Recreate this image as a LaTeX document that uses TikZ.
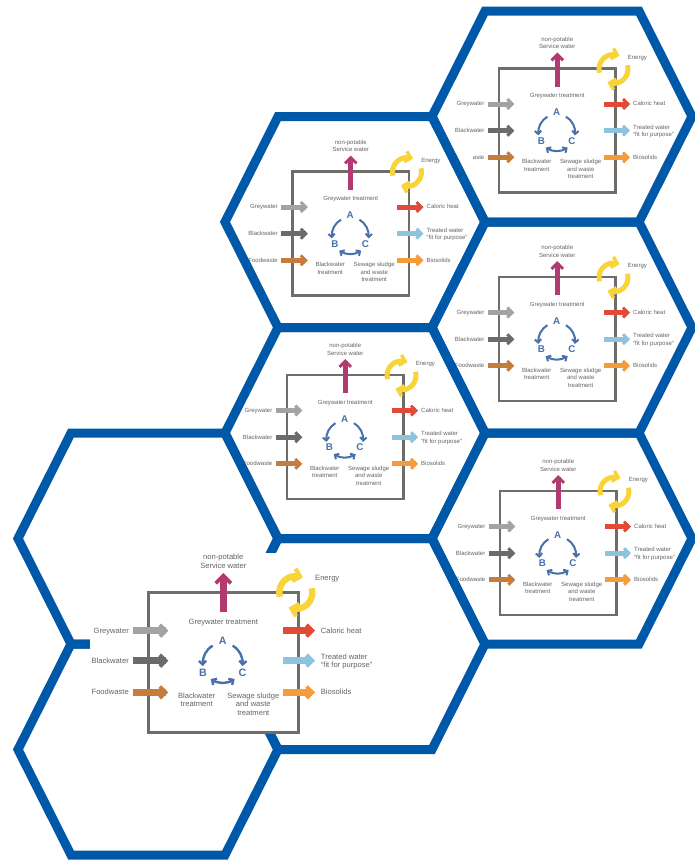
\documentclass[tikz,border=0pt]{standalone}
\usepackage{fontspec}
\setmainfont{Liberation Sans}
\usetikzlibrary{calc}
\definecolor{hexblue}{RGB}{0,88,168}
\definecolor{boxgray}{RGB}{112,108,104}
\definecolor{txtgray}{RGB}{100,100,100}
\definecolor{cgrey}{RGB}{165,162,162}
\definecolor{cblack}{RGB}{108,106,106}
\definecolor{cfood}{RGB}{198,124,58}
\definecolor{cheat}{RGB}{225,74,54}
\definecolor{cwater}{RGB}{140,196,222}
\definecolor{cbio}{RGB}{244,155,60}
\definecolor{cserv}{RGB}{178,58,112}
\definecolor{cenergy}{RGB}{248,212,56}
\definecolor{cabc}{RGB}{72,112,170}

\tikzset{
  hexedge/.style={draw=hexblue, line width=9pt, line join=miter},
  unitbox/.style={draw=boxgray, line width={\ubw*1pt}},
  lbl/.style={inner sep=0pt, text=txtgray, font=\fontsize{\ufs}{\ubl}\selectfont},
  abclbl/.style={inner sep=0pt, text=cabc, font=\fontsize{\uabc}{\uabc}\selectfont\bfseries},
}

% chevron: colour, vertex, direction (image angle), arm width, half size
\newcommand\chev[5]{%
  \draw[#1, line width={#4*1pt}, line join=miter, line cap=butt]
    ($#2+({#3+135}:{1.4142*#5})$) -- #2 -- ($#2+({#3-135}:{1.4142*#5})$);}

% right arrow: colour, x start, x tip, y, shaft width, arm width, half size
\newcommand\fatR[7]{%
  \pgfmathsetmacro\fvx{#3-0.7071*#6}%
  \draw[#1, line width={#5*1pt}] (#2,#4) -- (\fvx,#4);
  \chev{#1}{(\fvx,#4)}{0}{#6}{#7}}

% up arrow: colour, x, y start, y tip, shaft width, arm width, half size
\newcommand\fatU[7]{%
  \pgfmathsetmacro\fvy{#4+0.7071*#6}%
  \draw[#1, line width={#5*1pt}] (#2,#3) -- (#2,\fvy);
  \chev{#1}{(#2,\fvy)}{270}{#6}{#7}}

\newcommand\hexcell[2]{%
  \draw[hexedge] ({#1-130},#2) -- ({#1-77},{#2-105.5}) -- ({#1+77},{#2-105.5})
    -- ({#1+130},#2) -- ({#1+77},{#2+105.5}) -- ({#1-77},{#2+105.5}) -- cycle;}

\newcommand\smallparams{%
  \def\uW{116.5}\def\uH{124}%
  \def\uyA{35.5}\def\uyB{62.2}\def\uyC{88.8}%
  \def\uinS{-11.5}\def\uinT{15.3}\def\uinL{-14.5}%
  \def\uoutS{-12}\def\uoutT{14.5}\def\uoutL{17.5}%
  \def\uaw{5}\def\uhw{3}\def\uah{4.9}\def\umh{5.8}%
  \def\umb{18}\def\umt{-16}%
  \def\unp{-29.7}\def\ugt{27.3}%
  \def\uabcx{57.7}\def\uabcy{64.2}\def\ur{18.5}\def\uaby{-20.2}\def\ubcx{15.3}\def\ubcy{8.1}%
  \def\ubtx{37.7}\def\ustx{81.7}\def\utry{93}%
  \def\uex{-2}\def\uey{0.5}\def\uer{14.5}\def\uew{5}\def\uehw{3.4}\def\ueh{5.4}%
  \def\uelx{12.2}\def\uely{-11.3}%
  \def\ufs{6}\def\ubl{7.4}\def\uabc{9.8}\def\ubw{2.6}\def\uabw{2}\def\uabh{3.2}}

\newcommand\bigparams{%
  \def\uW{150}\def\uH{140}%
  \def\uyA{38.2}\def\uyB{68.2}\def\uyC{99.8}%
  \def\uinS{-15}\def\uinT{20}\def\uinL{-19.3}%
  \def\uoutS{-15}\def\uoutT{16.7}\def\uoutL{22.4}%
  \def\uaw{6.5}\def\uhw{3.8}\def\uah{5.8}\def\umh{7.6}%
  \def\umb{19.2}\def\umt{-19.5}%
  \def\unp{-35.5}\def\ugt{29.2}%
  \def\uabcx{74.4}\def\uabcy{70.5}\def\ur{20}\def\uaby{-22}\def\ubcx{19.8}\def\ubcy{9.7}%
  \def\ubtx{48.4}\def\ustx{105}\def\utry{103.2}%
  \def\uex{-2.5}\def\uey{0}\def\uer{16.5}\def\uew{6.3}\def\uehw{4.2}\def\ueh{6.4}%
  \def\uelx{16.7}\def\uely{-14.2}%
  \def\ufs{7.6}\def\ubl{8.3}\def\uabc{10.7}\def\ubw{3.2}\def\uabw{2.4}\def\uabh{3.6}}

\newcommand\drawunit[4]{%
\begin{scope}[shift={(#1,#2)}]
  \pgfmathsetmacro\uoS{\uW+\uoutS}%
  \pgfmathsetmacro\uoT{\uW+\uoutT}%
  \pgfmathsetmacro\uoL{\uW+\uoutL}%
  \pgfmathsetmacro\umx{\uW/2}%
  \draw[unitbox] (0,0) rectangle (\uW,\uH);
  % energy cycle
  \coordinate (#4-ec) at ({\uW+\uex},\uey);
  \coordinate (#4-e1) at ($(#4-ec)+(285:\uer)$);
  \coordinate (#4-e2) at ($(#4-ec)+(105:\uer)$);
  \draw[cenergy, line width={\uew*1pt}] ($(#4-ec)+(165:\uer)$) arc[start angle=165, end angle=285, radius=\uer];
  \draw[cenergy, line width={\uew*1pt}] ($(#4-ec)+(-15:\uer)$) arc[start angle=-15, end angle=105, radius=\uer];
  \chev{cenergy}{(#4-e1)}{15}{\uehw}{\ueh}
  \chev{cenergy}{(#4-e2)}{195}{\uehw}{\ueh}
  % service water
  \fatU{cserv}{\umx}{\umb}{\umt}{\uaw}{\uhw}{\umh}
  % inputs
  \fatR{cgrey}{\uinS}{\uinT}{\uyA}{\uaw}{\uhw}{\uah}
  \fatR{cblack}{\uinS}{\uinT}{\uyB}{\uaw}{\uhw}{\uah}
  \fatR{cfood}{\uinS}{\uinT}{\uyC}{\uaw}{\uhw}{\uah}
  % outputs
  \fatR{cheat}{\uoS}{\uoT}{\uyA}{\uaw}{\uhw}{\uah}
  \fatR{cwater}{\uoS}{\uoT}{\uyB}{\uaw}{\uhw}{\uah}
  \fatR{cbio}{\uoS}{\uoT}{\uyC}{\uaw}{\uhw}{\uah}
  % ABC cycle
  \coordinate (#4-c) at (\uabcx,\uabcy);
  \coordinate (#4-ab1) at ($(#4-c)+(176:\ur)$);
  \coordinate (#4-ac1) at ($(#4-c)+(4:\ur)$);
  \coordinate (#4-bc0) at ($(#4-c)+(122:\ur)$);
  \coordinate (#4-bc1) at ($(#4-c)+(58:\ur)$);
  \draw[cabc, line width={\uabw*1pt}] ($(#4-c)+(240:\ur)$) arc[start angle=240, end angle=176, radius=\ur];
  \draw[cabc, line width={\uabw*1pt}] ($(#4-c)+(300:\ur)$) arc[start angle=300, end angle=364, radius=\ur];
  \draw[cabc, line width={\uabw*1pt}] (#4-bc0) arc[start angle=122, end angle=58, radius=\ur];
  \chev{cabc}{(#4-ab1)}{86}{\uabw}{\uabh}
  \chev{cabc}{(#4-ac1)}{94}{\uabw}{\uabh}
  \chev{cabc}{(#4-bc0)}{212}{\uabw}{\uabh}
  \chev{cabc}{(#4-bc1)}{-32}{\uabw}{\uabh}
  \node[abclbl] (#4-A) at ($(#4-c)+(0,\uaby)$) {A};
  \node[abclbl] (#4-B) at ($(#4-c)+(-\ubcx,\ubcy)$) {B};
  \node[abclbl] (#4-C) at ($(#4-c)+(\ubcx,\ubcy)$) {C};
  % labels
  \node[lbl, anchor=base east] (#4-gw) at (\uinL,{\uyA+0.33*\ufs}) {Greywater};
  \node[lbl, anchor=base east] (#4-bw) at (\uinL,{\uyB+0.33*\ufs}) {Blackwater};
  \node[lbl, anchor=base east] (#4-fw) at (\uinL,{\uyC+0.33*\ufs}) {#3};
  \node[lbl, anchor=base west] (#4-ch) at (\uoL,{\uyA+0.33*\ufs}) {Caloric heat};
  \node[lbl, anchor=north west, align=left] (#4-tw) at (\uoL,{\uyB-0.5*\ubl-0.37*\ufs}) {Treated water\\“fit for purpose”};
  \node[lbl, anchor=base west] (#4-bs) at (\uoL,{\uyC+0.33*\ufs}) {Biosolids};
  \node[lbl, anchor=base west] (#4-en) at ({\uW+\uelx},{\uely+0.33*\ufs}) {Energy};
  \node[lbl, anchor=north, align=center] (#4-np) at (\umx,{\unp-0.37*\ufs}) {non-potable\\Service water};
  \node[lbl, anchor=base] (#4-gt) at (\umx,{\ugt+0.33*\ufs}) {Greywater treatment};
  \node[lbl, anchor=north, align=center] (#4-bt) at (\ubtx,{\utry-0.37*\ufs}) {Blackwater\\treatment};
  \node[lbl, anchor=north, align=center] (#4-st) at (\ustx,{\utry-0.37*\ufs}) {Sewage sludge\\and waste\\treatment};
\end{scope}}

\begin{document}
\begin{tikzpicture}[x=1pt, y=-1pt]
  \useasboundingbox (0,0) rectangle (695,860);
  \fill[white] (0,0) rectangle (695,860);
  \smallparams
  \drawunit{499}{68.5}{aste}{u1}
  \drawunit{292.5}{171.5}{Foodwaste}{u2}
  \drawunit{499}{277}{Foodwaste}{u3}
  \drawunit{287}{375}{Foodwaste}{u4}
  \drawunit{500}{491}{Foodwaste}{u5}
  % honeycomb
  \hexcell{562}{116.5}
  \hexcell{562}{327.5}
  \hexcell{562}{538.5}
  \hexcell{355}{222}
  \hexcell{355}{433}
  \hexcell{355}{644}
  \hexcell{148}{538.5}
  \hexcell{148}{749.5}
  % big unit on its own white ground
  \fill[white] (90,553) rectangle (420,734);
  \bigparams
  \drawunit{148.3}{592.5}{Foodwaste}{ub}
\end{tikzpicture}
\end{document}
